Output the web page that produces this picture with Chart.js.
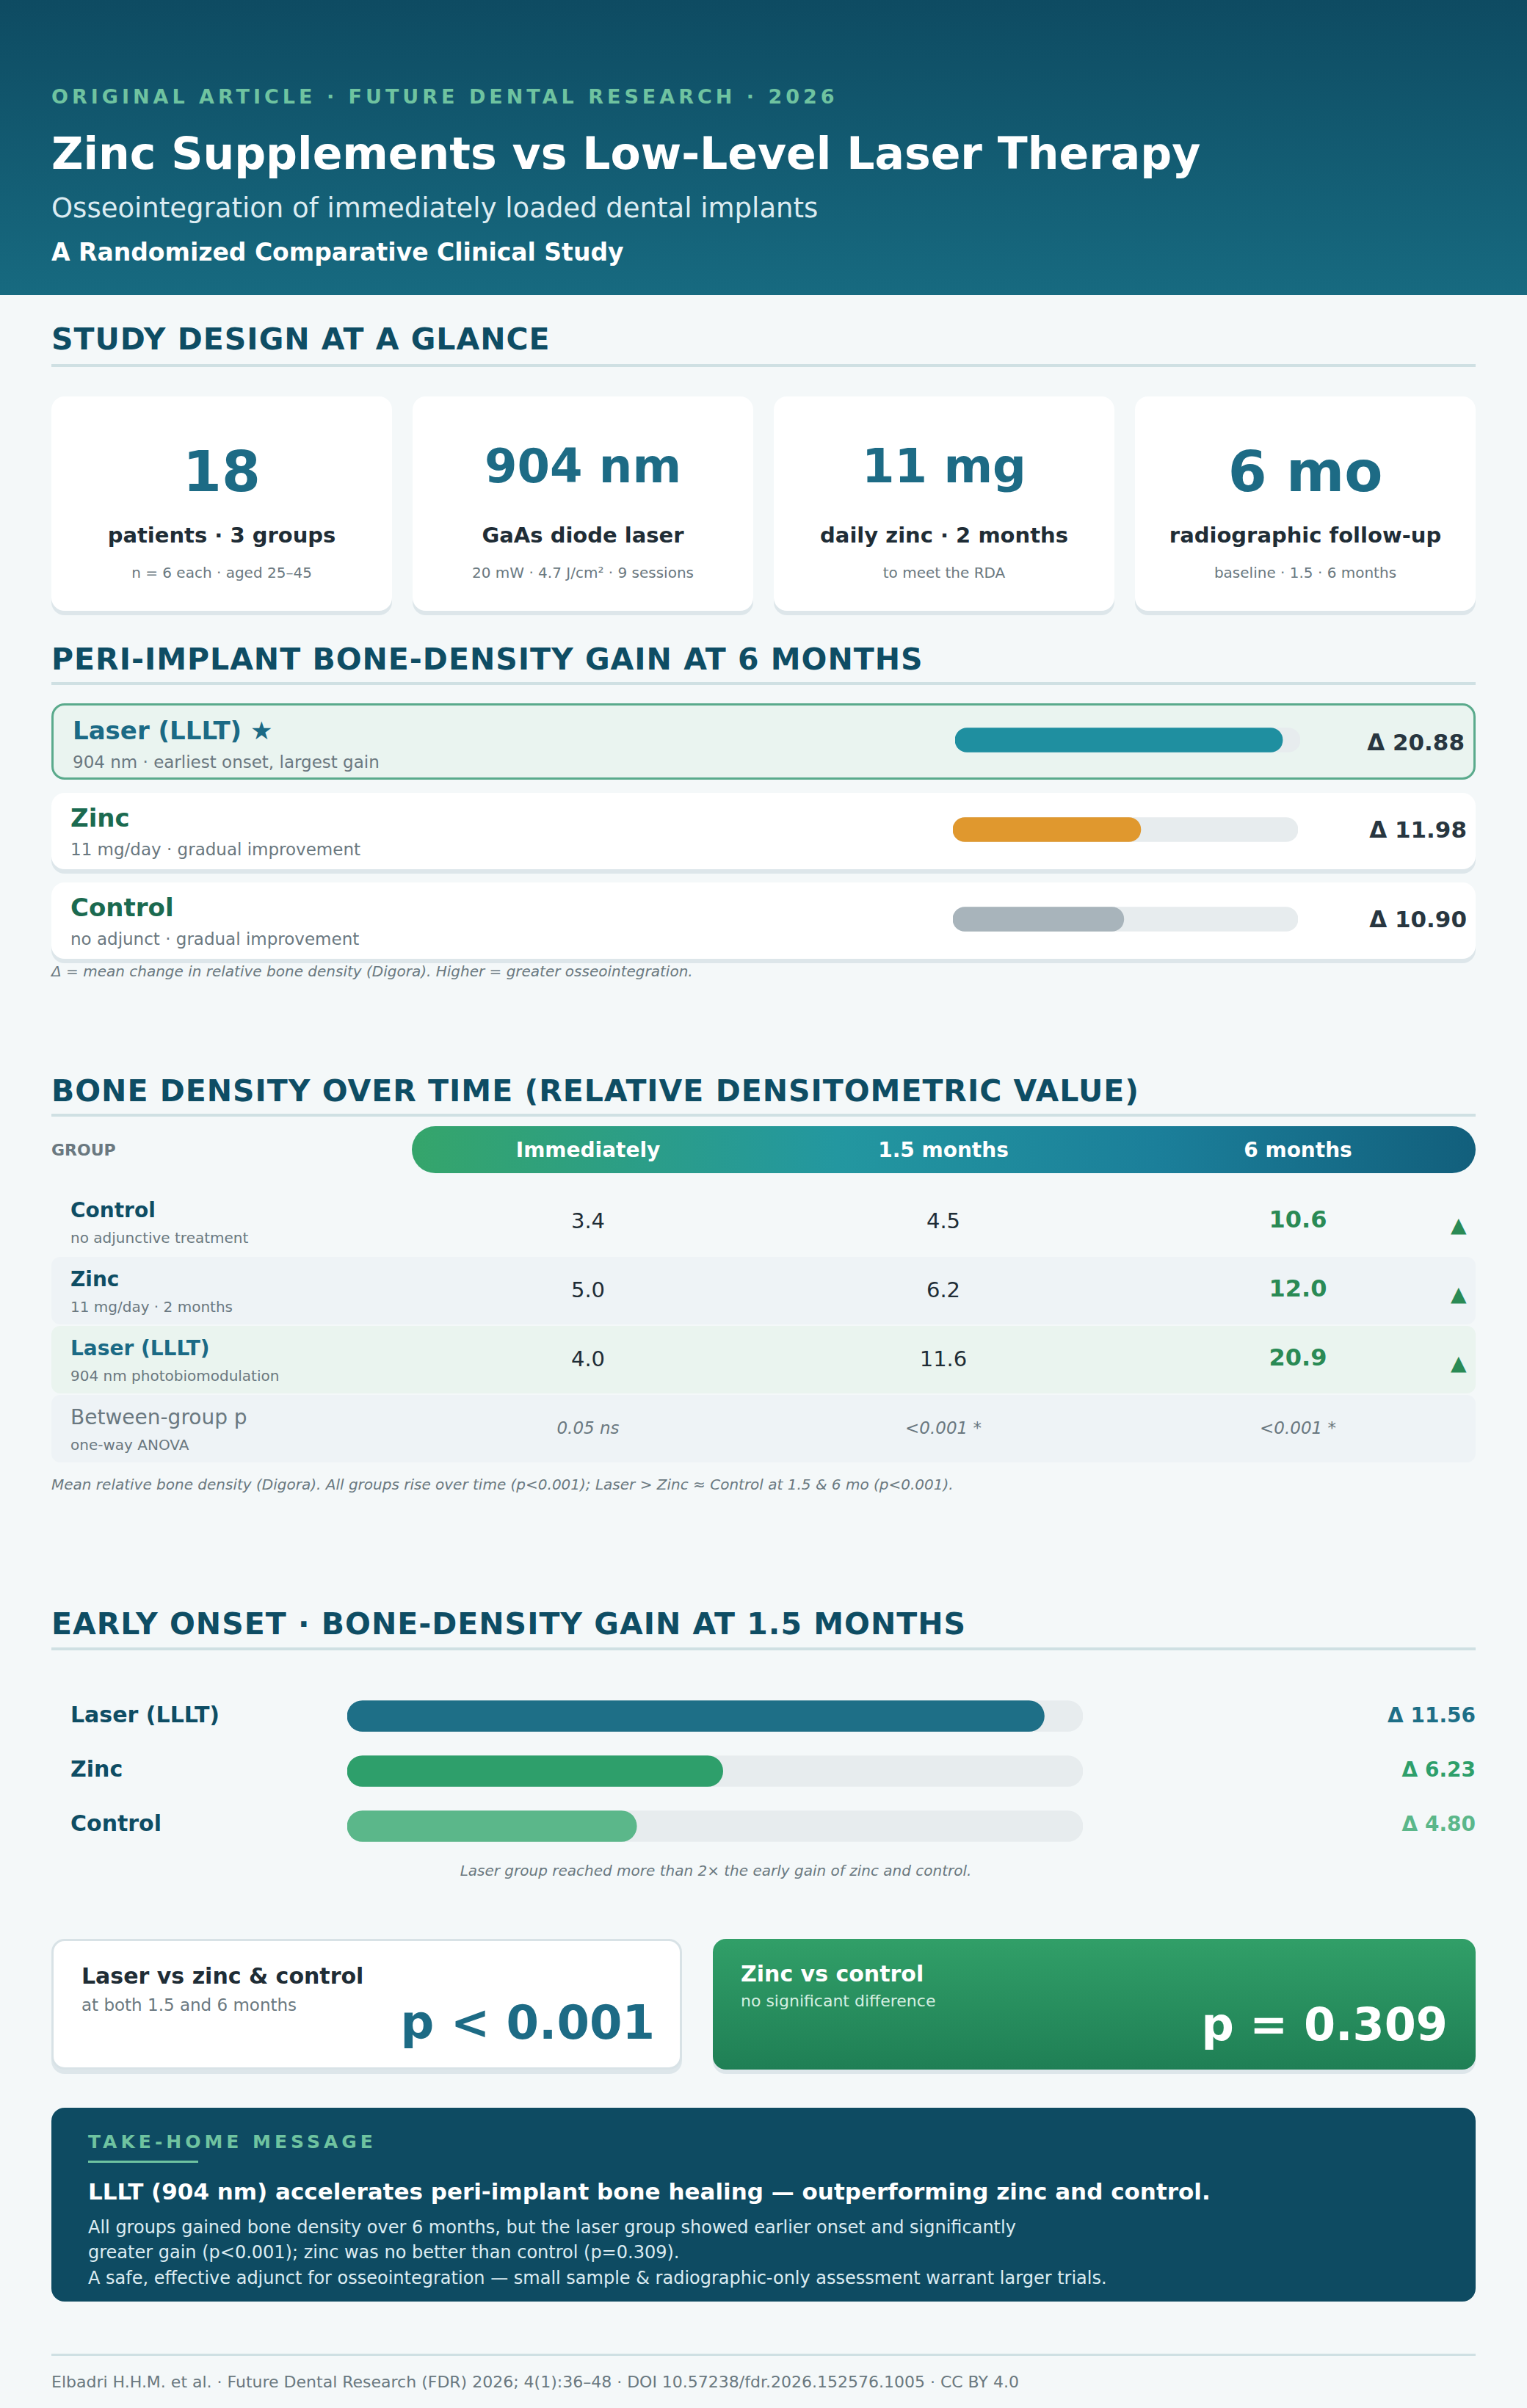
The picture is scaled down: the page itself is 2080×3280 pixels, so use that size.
<!DOCTYPE html>
<html><head><meta charset="utf-8">
<script src="https://cdn.jsdelivr.net/npm/chart.js@4"></script>
<style>
*{box-sizing:border-box;margin:0;padding:0}
body{width:2080px;height:3280px;background:#f4f8f9;font-family:"DejaVu Sans",sans-serif;color:#1f2d36;position:relative;overflow:hidden}
.abs{position:absolute}
header{position:absolute;left:0;top:0;width:2080px;height:402px;background:linear-gradient(180deg,#0e4b62,#176a80)}
.kick{left:70px;top:116px;font-size:27px;font-weight:bold;letter-spacing:5px;color:#6fc3a0}
.h1{left:70px;top:174px;font-size:60px;font-weight:bold;color:#fff}
.h2{left:70px;top:262px;font-size:37px;color:#dcecf2}
.h3{left:70px;top:324px;font-size:33px;font-weight:bold;color:#fff}
.sec{left:70px;font-size:41px;font-weight:bold;color:#0e4d64;letter-spacing:1px}
.rule{left:70px;width:1940px;height:4px;background:#cfe0e3}
.card{background:#fff;border-radius:18px;box-shadow:0 6px 0 #dde6ea;text-align:center}
.card .n{font-size:76px;font-weight:bold;color:#1d6b85;margin-top:58px;height:100px}
.card .l{font-size:29px;font-weight:bold;margin-top:14px}
.card .s{font-size:20px;color:#6a7880;margin-top:22px}
.row{left:70px;width:1940px;height:104px;background:#fff;border-radius:18px;box-shadow:0 6px 0 #dde6ea}
.row .t{position:absolute;left:26px;top:14px;font-size:34px;font-weight:bold;color:#1b6a50}
.row .d{position:absolute;left:26px;top:64px;font-size:23px;color:#6a7880}
.row .v{position:absolute;right:12px;top:32px;font-size:31px;font-weight:bold;color:#283640}
.row canvas{position:absolute}
.note{left:70px;font-size:20px;font-style:italic;color:#6a7880}
.tr{left:70px;width:1940px;height:92px;border-radius:12px}
.tr .g{position:absolute;left:26px;top:14px;font-size:28px;font-weight:bold;color:#0e4d64}
.tr .gs{position:absolute;left:26px;top:56px;font-size:20px;color:#6a7880}
.tr .c{position:absolute;top:28px;width:300px;margin-left:-150px;text-align:center;font-size:29px}
.tr .b{font-weight:bold;color:#2a8a55;font-size:32px;top:24px}
.tr .ar{position:absolute;left:1906px;top:34px;color:#2a8a55;font-size:28px}
.el{left:96px;font-size:30px;font-weight:bold;color:#0e4d64}
.ev{right:70px;font-size:28px;font-weight:bold}
</style></head><body>
<header>
<div class="abs kick">ORIGINAL ARTICLE · FUTURE DENTAL RESEARCH · 2026</div>
<div class="abs h1">Zinc Supplements vs Low-Level Laser Therapy</div>
<div class="abs h2">Osseointegration of immediately loaded dental implants</div>
<div class="abs h3">A Randomized Comparative Clinical Study</div>
</header>

<div class="abs sec" style="top:438px">STUDY DESIGN AT A GLANCE</div>
<div class="abs rule" style="top:496px"></div>
<div class="abs card" style="left:70px;top:540px;width:464px;height:292px"><div class="n">18</div><div class="l">patients · 3 groups</div><div class="s">n = 6 each · aged 25–45</div></div>
<div class="abs card" style="left:562px;top:540px;width:464px;height:292px"><div class="n" style="font-size:64px">904 nm</div><div class="l">GaAs diode laser</div><div class="s">20 mW · 4.7 J/cm² · 9 sessions</div></div>
<div class="abs card" style="left:1054px;top:540px;width:464px;height:292px"><div class="n" style="font-size:64px">11 mg</div><div class="l">daily zinc · 2 months</div><div class="s">to meet the RDA</div></div>
<div class="abs card" style="left:1546px;top:540px;width:464px;height:292px"><div class="n">6 mo</div><div class="l">radiographic follow-up</div><div class="s">baseline · 1.5 · 6 months</div></div>

<div class="abs sec" style="top:874px">PERI-IMPLANT BONE-DENSITY GAIN AT 6 MONTHS</div>
<div class="abs rule" style="top:929px"></div>
<div id="gainRows"></div>
<div class="abs note" style="top:1311px">Δ = mean change in relative bone density (Digora). Higher = greater osseointegration.</div>

<div class="abs sec" style="top:1462px">BONE DENSITY OVER TIME (RELATIVE DENSITOMETRIC VALUE)</div>
<div class="abs rule" style="top:1517px"></div>
<div class="abs" style="left:70px;top:1554px;font-size:22px;font-weight:bold;color:#6a7880">GROUP</div>
<div class="abs" style="left:561px;top:1534px;width:1449px;height:64px;border-radius:32px;background:linear-gradient(90deg,#35a56b,#2397a0 40%,#1b7f9a 70%,#125f7c)"></div>
<div id="tbl"></div>
<div class="abs note" style="top:2010px">Mean relative bone density (Digora). All groups rise over time (p&lt;0.001); Laser &gt; Zinc ≈ Control at 1.5 &amp; 6 mo (p&lt;0.001).</div>

<div class="abs sec" style="top:2188px">EARLY ONSET · BONE-DENSITY GAIN AT 1.5 MONTHS</div>
<div class="abs rule" style="top:2244px"></div>
<canvas id="early" class="abs" style="left:473px;top:2300px;width:1002px;height:225px"></canvas>
<div id="earlyLbl"></div>
<div class="abs note" style="left:0;width:1950px;text-align:center;top:2536px">Laser group reached more than 2× the early gain of zinc and control.</div>

<div class="abs" style="left:70px;top:2641px;width:859px;height:178px;background:#fff;border:3px solid #d8e2e6;border-radius:18px;box-shadow:0 6px 0 #dde6ea">
<div class="abs" style="left:38px;top:30px;font-size:30px;font-weight:bold">Laser vs zinc &amp; control</div>
<div class="abs" style="left:38px;top:74px;font-size:23px;color:#6a7880">at both 1.5 and 6 months</div>
<div class="abs" style="right:34px;top:74px;font-size:64px;font-weight:bold;color:#1d6b85">p &lt; 0.001</div></div>
<div class="abs" style="left:971px;top:2641px;width:1039px;height:178px;border-radius:18px;background:linear-gradient(180deg,#319f68,#1f7f55);box-shadow:0 6px 0 #dde6ea;color:#fff">
<div class="abs" style="left:38px;top:30px;font-size:30px;font-weight:bold">Zinc vs control</div>
<div class="abs" style="left:38px;top:72px;font-size:22px;color:#d6efe2">no significant difference</div>
<div class="abs" style="right:38px;top:80px;font-size:62px;font-weight:bold">p = 0.309</div></div>

<div class="abs" style="left:70px;top:2871px;width:1940px;height:264px;border-radius:18px;background:#0e4b62;color:#fff">
<div class="abs" style="left:50px;top:32px;font-size:25px;font-weight:bold;letter-spacing:5px;color:#6fc3a0">TAKE-HOME MESSAGE</div>
<div class="abs" style="left:50px;top:72px;width:150px;height:3px;background:#6fc3a0"></div>
<div class="abs" style="left:50px;top:96px;font-size:31px;font-weight:bold">LLLT (904 nm) accelerates peri-implant bone healing — outperforming zinc and control.</div>
<div class="abs" style="left:50px;top:146px;font-size:24px;line-height:34px;color:#dcecf2">All groups gained bone density over 6 months, but the laser group showed earlier onset and significantly<br>greater gain (p&lt;0.001); zinc was no better than control (p=0.309).</div>
<div class="abs" style="left:50px;top:218px;font-size:24px;color:#dcecf2">A safe, effective adjunct for osseointegration — small sample &amp; radiographic-only assessment warrant larger trials.</div></div>

<div class="abs rule" style="top:3206px;height:3px"></div>
<div class="abs" style="left:70px;top:3232px;font-size:22px;color:#6a7880">Elbadri H.H.M. et al. · Future Dental Research (FDR) 2026; 4(1):36–48 · DOI 10.57238/fdr.2026.152576.1005 · CC BY 4.0</div>

<script>
const groups = ["Laser (LLLT)", "Zinc", "Control"];
const gainNotes = ["904 nm · earliest onset, largest gain", "11 mg/day · gradual improvement", "no adjunct · gradual improvement"];
const gain6mo = [20.88, 11.98, 10.90];
const gainColors = ["#1f8fa0", "#e0982e", "#a8b4bb"];
const gain15mo = [11.56, 6.23, 4.80];
const earlyColors = ["#1e6f87", "#2e9f6b", "#5bb78a"];
const earlyValColors = ["#1e6f87", "#2e9f6b", "#5bb78a"];
const timeLabels = ["Immediately", "1.5 months", "6 months"];
const tblGroups = ["Control", "Zinc", "Laser (LLLT)"];
const tblNotes = ["no adjunctive treatment", "11 mg/day · 2 months", "904 nm photobiomodulation"];
const density = [[3.4, 4.5, 10.6], [5.0, 6.2, 12.0], [4.0, 11.6, 20.9]];
const pValues = ["0.05 ns", "<0.001 *", "<0.001 *"];
const GAIN_MAX = 22, EARLY_MAX = 12.2, TRACK = "#e7ecee";

function barChart(canvas, vals, colors, max, thick) {
  new Chart(canvas, {
    type: 'bar',
    data: { labels: vals.map((_, i) => i), datasets: [
      { data: vals, backgroundColor: colors, borderRadius: 100, borderSkipped: false, barThickness: thick, grouped: false },
      { data: vals.map(() => max), backgroundColor: TRACK, borderRadius: 100, borderSkipped: false, barThickness: thick, grouped: false }
    ]},
    options: { indexAxis: 'y', responsive: false, animation: false, events: [],
      layout: { padding: 0 },
      plugins: { legend: { display: false }, tooltip: { enabled: false } },
      scales: { x: { display: false, min: 0, max: max }, y: { display: false } } }
  });
}

const gr = document.getElementById('gainRows');
const tops = [958, 1080, 1202];
groups.forEach((g, i) => {
  const r = document.createElement('div');
  r.className = 'abs row';
  r.style.top = tops[i] + 'px';
  if (i === 0) { r.style.background = '#eaf4f0'; r.style.border = '3px solid #5aaa8c'; r.style.boxShadow = 'none'; }
  r.innerHTML = `<div class="t" style="color:${i===0?'#1b6a85':'#1b6a50'}">${g}${i===0?' ★':''}</div><div class="d">${gainNotes[i]}</div><div class="v">Δ ${gain6mo[i].toFixed(2)}</div>`;
  const c = document.createElement('canvas');
  c.width = 470; c.height = 40;
  c.style.left = '1228px'; c.style.top = (i===0?27:30) + 'px';
  r.appendChild(c);
  gr.appendChild(r);
  barChart(c, [gain6mo[i]], [gainColors[i]], GAIN_MAX, 33);
});

const tb = document.getElementById('tbl');
let h = '';
const colX = [731, 1215, 1698];
timeLabels.forEach((t, j) => { h += `<div class="abs" style="left:${70+colX[j]-200}px;width:400px;text-align:center;top:1550px;font-size:28px;font-weight:bold;color:#fff">${t}</div>`; });
const bgs = ['transparent', '#eef3f6', '#eaf4ef'];
tblGroups.forEach((g, i) => {
  h += `<div class="abs tr" style="top:${1618+i*94}px;background:${bgs[i]}"><div class="g" style="color:${i===2?'#1b6a85':'#0e4d64'}">${g}</div><div class="gs">${tblNotes[i]}</div>`;
  density[i].forEach((v, j) => { h += `<div class="c${j===2?' b':''}" style="left:${colX[j]}px">${v.toFixed(1)}</div>`; });
  h += `<div class="ar">▲</div></div>`;
});
h += `<div class="abs tr" style="top:1900px;background:#eef3f6"><div class="g" style="font-weight:normal;color:#6a7880">Between-group p</div><div class="gs">one-way ANOVA</div>`;
pValues.forEach((p, j) => { h += `<div class="c" style="left:${colX[j]}px;font-style:italic;font-size:23px;color:#6a7880;top:32px">${p}</div>`; });
h += `</div>`;
tb.innerHTML = h;

const ec = document.getElementById('early');
ec.width = 1002; ec.height = 225;
barChart(ec, gain15mo, earlyColors, EARLY_MAX, 42);
let e = '';
groups.forEach((g, i) => {
  const y = 2318 + i * 74;
  e += `<div class="abs el" style="top:${y}px">${g}</div><div class="abs ev" style="top:${y+2}px;color:${earlyValColors[i]}">Δ ${gain15mo[i].toFixed(2)}</div>`;
});
document.getElementById('earlyLbl').innerHTML = e;
</script>
</body></html>
